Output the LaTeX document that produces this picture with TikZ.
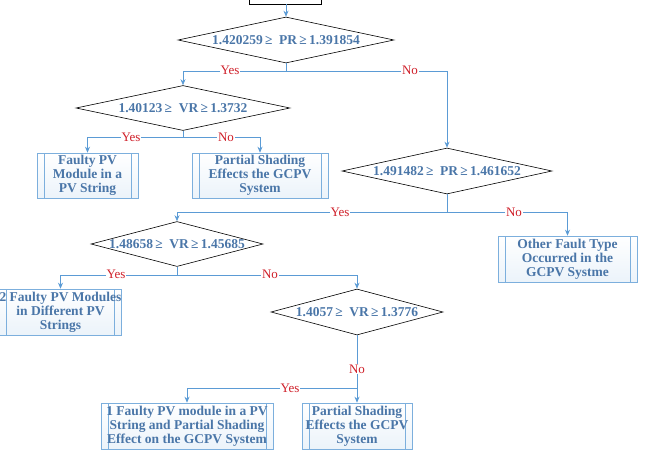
\documentclass[tikz,border=0pt]{standalone}
\usepackage{fontspec}
\setmainfont{Liberation Serif}
\usetikzlibrary{shapes.geometric,arrows.meta}
\definecolor{lineblue}{HTML}{5B9BD5}
\definecolor{txtblue}{HTML}{4A76A8}
\definecolor{lblred}{HTML}{D0202A}
\tikzset{
  dec/.style={diamond,draw=black,line width=0.6pt,inner sep=0pt},
  dectext/.style={inner sep=0pt,font=\bfseries\fontsize{13.5}{15}\selectfont,text=txtblue},
  res/.style={rectangle,draw=lineblue!80,line width=0.6pt,top color=white,bottom color=lineblue!12,
    font=\bfseries\fontsize{13.5}{14}\selectfont,text=txtblue,align=center,inner sep=0pt,
    path picture={\draw[lineblue!80,line width=0.5pt]
      ([xshift=7pt]path picture bounding box.north west)--([xshift=7pt]path picture bounding box.south west)
      ([xshift=-7pt]path picture bounding box.north east)--([xshift=-7pt]path picture bounding box.south east);}},
  arr/.style={draw=lineblue,line width=0.8pt,-{Stealth[length=6pt,width=5pt]}},
  lbl/.style={fill=white,inner sep=1pt,text=lblred,font=\fontsize{13}{14}\selectfont}
}
\begin{document}
\begin{tikzpicture}[x=1pt,y=-1pt]
\useasboundingbox (0,0) rectangle (654,456);
\node[draw=black,line width=0.6pt,minimum width=72pt,minimum height=14pt,inner sep=0pt] (start) at (285,-3) {};
\node[dec,minimum width=216pt,minimum height=46pt] (d1) at (286,40) {};
\node[dectext] (t1) at (d1) {1.420259\,≥\ \ PR\,≥\,1.391854};
\node[dec,minimum width=214pt,minimum height=45pt] (d2) at (183,108) {};
\node[dectext] (t2) at (d2) {1.40123\,≥\ \ VR\,≥\,1.3732};
\node[dec,minimum width=210pt,minimum height=46pt] (d3) at (447,171) {};
\node[dectext] (t3) at (d3) {1.491482\,≥\ \ PR\,≥\,1.461652};
\node[dec,minimum width=172pt,minimum height=45pt] (d4) at (177,244) {};
\node[dectext] (t4) at (d4) {1.48658\,≥\ \ VR\,≥\,1.45685};
\node[dec,minimum width=172pt,minimum height=46pt] (d5) at (357,312) {};
\node[dectext] (t5) at (d5) {1.4057\,≥\ \ VR\,≥\,1.3776};
\node[res,minimum width=101pt,minimum height=45pt] (b1) at (87.5,175.5) {Faulty PV\\Module in a\\PV String};
\node[res,minimum width=136pt,minimum height=45pt] (b2) at (260,175.5) {Partial Shading\\Effects the GCPV\\System};
\node[res,minimum width=139pt,minimum height=46pt] (b3) at (567.5,259) {Other Fault Type\\Occurred in the\\GCPV Systme};
\node[res,minimum width=119pt,minimum height=46pt] (b4) at (60.5,312) {2 Faulty PV Modules\\in Different PV\\Strings};
\node[res,minimum width=172pt,minimum height=46pt] (b5) at (187,426) {1 Faulty PV module in a PV\\String and Partial Shading\\Effect on the GCPV System};
\node[res,minimum width=110pt,minimum height=46pt] (b6) at (357,426) {Partial Shading\\Effects the GCPV\\System};
\draw[arr] (start.south -| d1.north) -- (d1.north);
\draw[arr] (d1.south) -- ++(0,8) -| (d2.north);
\draw[arr] (d1.south) -- ++(0,8) -| (d3.north);
\node[lbl] (l1) at (230,70) {Yes};
\node[lbl] (l2) at (410,70) {No};
\draw[arr] (d2.south) -- ++(0,7) -| (b1.north);
\draw[arr] (d2.south) -- ++(0,7) -| (b2.north);
\node[lbl] (l3) at (131,137) {Yes};
\node[lbl] (l4) at (226,137) {No};
\draw[arr] (d3.south) -- ++(0,18) -| (d4.north);
\draw[arr] (d3.south) -- ++(0,18) -| (b3.north);
\node[lbl] (l5) at (340,212) {Yes};
\node[lbl] (l6) at (514,212) {No};
\draw[arr] (d4.south) -- ++(0,9) -| (b4.north);
\draw[arr] (d4.south) -- ++(0,9) -| (d5.north);
\node[lbl] (l7) at (116,274) {Yes};
\node[lbl] (l8) at (270,274) {No};
\draw[arr] (d5.south) -- (b6.north);
\draw[arr] (d5.south) -- ++(0,53) -| (b5.north);
\node[lbl] (l9) at (357,369) {No};
\node[lbl] (l10) at (290,388) {Yes};
\end{tikzpicture}
\end{document}
